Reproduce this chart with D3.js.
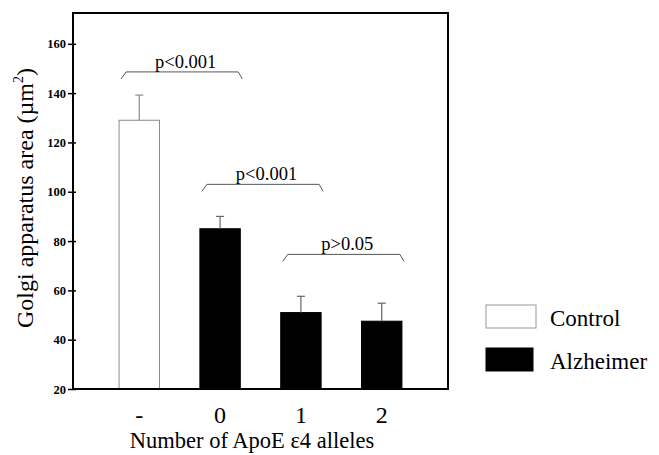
<!DOCTYPE html>
<html>
<head>
<meta charset="utf-8">
<script src="https://cdn.jsdelivr.net/npm/d3@7"></script>
<style>
  body { margin: 0; background: #fff; }
  svg { display: block; font-family: "Liberation Serif", "Times New Roman", serif; }
</style>
</head>
<body>
<div id="chart"></div>
<script>
// chart values
const groups = ["-", "0", "1", "2"];
const means = [129, 85, 51, 47.5];
const sems = [10.2, 5.0, 6.6, 7.3];
const kinds = ["Control", "Alzheimer", "Alzheimer", "Alzheimer"];
const yTicks = [20, 40, 60, 80, 100, 120, 140, 160];

// significance brackets (from group, to group, height in µm², label)
const bracketFrom = ["-", "0", "1"];
const bracketTo = ["0", "1", "2"];
const bracketLevel = [148.6, 103, 74.6];
const bracketLabel = ["p<0.001", "p<0.001", "p>0.05"];

const legendNames = ["Control", "Alzheimer"];

let width = 659, height = 455;
let plot = { left: 73, right: 448, top: 13, bottom: 389 };

let svg = d3.select("#chart").append("svg")
  .attr("width", width)
  .attr("height", height)
  .attr("font-family", "'Liberation Serif', 'Times New Roman', serif");

let x = d3.scaleBand()
  .domain(groups)
  .range([plot.left, plot.right])
  .paddingInner(0.5)
  .paddingOuter(0.57);

let y = d3.scaleLinear()
  .domain([20, 172.5])
  .range([plot.bottom, plot.top]);

// bars
svg.append("g").selectAll("rect")
  .data(groups)
  .enter()
  .append("rect")
  .attr("x", (d) => x(d))
  .attr("y", (d, i) => y(means[i]))
  .attr("width", x.bandwidth())
  .attr("height", (d, i) => y(20) - y(means[i]))
  .attr("fill", (d, i) => kinds[i] == "Control" ? "#fff" : "#000")
  .attr("stroke", (d, i) => kinds[i] == "Control" ? "#8a8a8a" : "#000")
  .attr("stroke-width", 1);

// error bars (upper only)
let err = svg.append("g").selectAll("g")
  .data(groups)
  .enter()
  .append("g")
  .attr("stroke", (d, i) => kinds[i] == "Control" ? "#8a8a8a" : "#666")
  .attr("stroke-width", 1.2);
err.append("line")
  .attr("x1", (d) => x(d) + x.bandwidth() / 2)
  .attr("x2", (d) => x(d) + x.bandwidth() / 2)
  .attr("y1", (d, i) => y(means[i]))
  .attr("y2", (d, i) => y(means[i] + sems[i]));
err.append("line")
  .attr("x1", (d) => x(d) + x.bandwidth() / 2 - 4)
  .attr("x2", (d) => x(d) + x.bandwidth() / 2 + 4)
  .attr("y1", (d, i) => y(means[i] + sems[i]))
  .attr("y2", (d, i) => y(means[i] + sems[i]));

// brackets
let br = svg.append("g").selectAll("g")
  .data(bracketLabel)
  .enter()
  .append("g");
br.append("path")
  .attr("fill", "none")
  .attr("stroke", "#555")
  .attr("stroke-width", 1)
  .attr("d", function (d, i) {
    let x0 = x(bracketFrom[i]) + 2;
    let x1 = x(bracketTo[i]) + x.bandwidth() + 2;
    let yl = y(bracketLevel[i]);
    return "M" + x0 + "," + (yl + 7) + "L" + (x0 + 5) + "," + yl +
      "L" + (x1 - 4) + "," + yl + "L" + x1 + "," + (yl + 7);
  });
br.append("text")
  .attr("x", (d, i) => (x(bracketFrom[i]) + x(bracketTo[i]) + x.bandwidth()) / 2 + 6)
  .attr("y", (d, i) => y(bracketLevel[i]) - 4)
  .attr("text-anchor", "middle")
  .attr("font-size", 18.5)
  .text((d) => d);

// frame
svg.append("rect")
  .attr("x", plot.left)
  .attr("y", plot.top)
  .attr("width", plot.right - plot.left)
  .attr("height", plot.bottom - plot.top)
  .attr("fill", "none")
  .attr("stroke", "#000")
  .attr("stroke-width", 2);

// y axis
let yAxis = svg.append("g")
  .attr("transform", "translate(" + plot.left + ",0)")
  .call(d3.axisLeft(y).tickValues(yTicks).tickSize(5).tickPadding(2));
yAxis.select(".domain").remove();
yAxis.selectAll(".tick line").attr("x1", 3).attr("stroke-width", 1.5);
yAxis.selectAll(".tick text")
  .attr("font-family", "'Liberation Serif', serif")
  .attr("font-weight", "bold")
  .attr("font-size", 12.5)
  .attr("fill", "#000");

// x tick labels
let xAxis = svg.append("g")
  .attr("transform", "translate(0," + plot.bottom + ")")
  .call(d3.axisBottom(x).tickSize(0).tickPadding(0));
xAxis.select(".domain").remove();
xAxis.selectAll(".tick text")
  .attr("font-family", "'Liberation Serif', serif")
  .attr("font-size", 24)
  .attr("dy", null)
  .attr("y", 34)
  .attr("fill", "#000");

// axis titles
svg.append("text")
  .attr("x", 252)
  .attr("y", 448)
  .attr("text-anchor", "middle")
  .attr("font-size", 22.5)
  .text("Number of ApoE \u03b54 alleles");

let yt = svg.append("text")
  .attr("transform", "translate(33,198) rotate(-90)")
  .attr("text-anchor", "middle")
  .attr("font-size", 24);
yt.append("tspan").text("Golgi apparatus area (\u00b5m");
yt.append("tspan").attr("dy", -10).attr("font-size", 14).text("2");
yt.append("tspan").attr("dy", 10).text(")");

// legend
let leg = svg.append("g").selectAll("g")
  .data(legendNames)
  .enter()
  .append("g")
  .attr("transform", (d, i) => "translate(486," + (305 + i * 43) + ")");
leg.append("rect")
  .attr("width", (d, i) => i == 0 ? 50 : 47)
  .attr("height", 23)
  .attr("fill", (d, i) => i == 0 ? "#fff" : "#000")
  .attr("stroke", (d, i) => i == 0 ? "#999" : "#000");
leg.append("text")
  .attr("x", 64)
  .attr("y", 21)
  .attr("font-size", 23)
  .text((d) => d);
</script>
</body>
</html>
